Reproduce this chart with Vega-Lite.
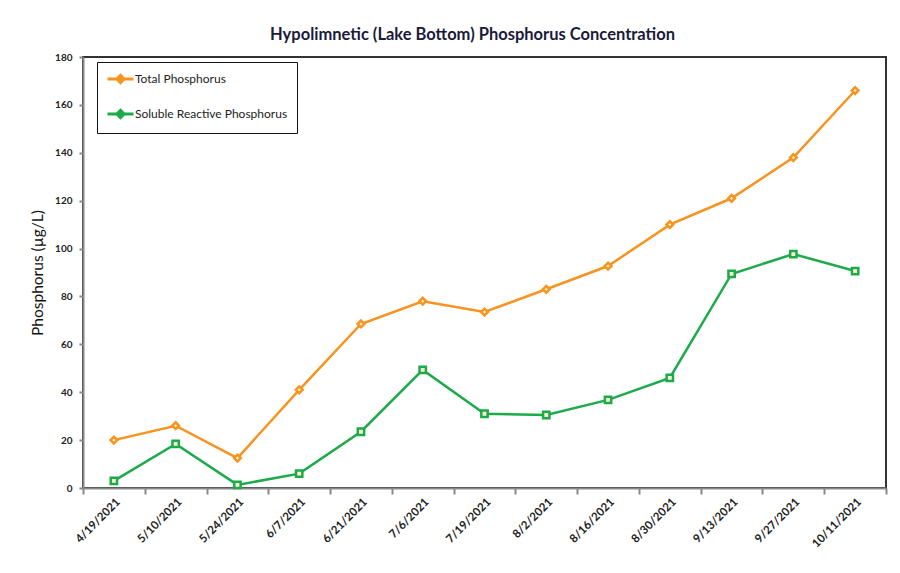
{
  "$schema": "https://vega.github.io/schema/vega-lite/v6.json",
  "width": 803,
  "height": 431,
  "autosize": {"type": "none"},
  "padding": {"left": 83, "top": 57, "right": 14, "bottom": 85},
  "background": "white",
  "title": {
    "text": "Hypolimnetic (Lake Bottom) Phosphorus Concentration",
    "font": "Lato",
    "fontSize": 16.5,
    "fontWeight": "bold",
    "color": "#1a1a3a",
    "anchor": "middle",
    "dx": -12,
    "offset": 9
  },
  "config": {
    "view": {"stroke": "#333333", "strokeWidth": 2},
    "font": "Lato"
  },
  "data": {
    "values": [
      {"date": "4/19/2021", "series": "Total Phosphorus", "value": 20},
      {"date": "5/10/2021", "series": "Total Phosphorus", "value": 26},
      {"date": "5/24/2021", "series": "Total Phosphorus", "value": 12.5},
      {"date": "6/7/2021", "series": "Total Phosphorus", "value": 41},
      {"date": "6/21/2021", "series": "Total Phosphorus", "value": 68.5},
      {"date": "7/6/2021", "series": "Total Phosphorus", "value": 78},
      {"date": "7/19/2021", "series": "Total Phosphorus", "value": 73.5},
      {"date": "8/2/2021", "series": "Total Phosphorus", "value": 83},
      {"date": "8/16/2021", "series": "Total Phosphorus", "value": 92.7},
      {"date": "8/30/2021", "series": "Total Phosphorus", "value": 110},
      {"date": "9/13/2021", "series": "Total Phosphorus", "value": 121},
      {"date": "9/27/2021", "series": "Total Phosphorus", "value": 138},
      {"date": "10/11/2021", "series": "Total Phosphorus", "value": 166},
      {"date": "4/19/2021", "series": "Soluble Reactive Phosphorus", "value": 3},
      {"date": "5/10/2021", "series": "Soluble Reactive Phosphorus", "value": 18.4},
      {"date": "5/24/2021", "series": "Soluble Reactive Phosphorus", "value": 1.3},
      {"date": "6/7/2021", "series": "Soluble Reactive Phosphorus", "value": 6},
      {"date": "6/21/2021", "series": "Soluble Reactive Phosphorus", "value": 23.5},
      {"date": "7/6/2021", "series": "Soluble Reactive Phosphorus", "value": 49.3},
      {"date": "7/19/2021", "series": "Soluble Reactive Phosphorus", "value": 31},
      {"date": "8/2/2021", "series": "Soluble Reactive Phosphorus", "value": 30.5},
      {"date": "8/16/2021", "series": "Soluble Reactive Phosphorus", "value": 36.8},
      {"date": "8/30/2021", "series": "Soluble Reactive Phosphorus", "value": 46},
      {"date": "9/13/2021", "series": "Soluble Reactive Phosphorus", "value": 89.4},
      {"date": "9/27/2021", "series": "Soluble Reactive Phosphorus", "value": 97.7},
      {"date": "10/11/2021", "series": "Soluble Reactive Phosphorus", "value": 90.6}
    ]
  },
  "encoding": {
    "x": {
      "field": "date",
      "type": "ordinal",
      "sort": null,
      "scale": {"type": "band", "paddingInner": 0, "paddingOuter": 0},
      "axis": {
        "title": null,
        "labelAngle": -45,
        "labelAlign": "right",
        "labelBaseline": "top",
        "labelFont": "Lato",
        "labelFontSize": 11.5,
        "labelFontWeight": "bold",
        "labelColor": "#222222",
        "tickBand": "extent",
        "domainColor": "#888888",
        "domainWidth": 2,
        "tickColor": "#888888",
        "tickWidth": 2,
        "tickSize": 6,
        "labelPadding": 2
      }
    },
    "y": {
      "field": "value",
      "type": "quantitative",
      "scale": {"domain": [0, 180], "nice": false},
      "axis": {
        "title": "Phosphorus (µg/L)",
        "titleFont": "Lato",
        "titleFontSize": 15.5,
        "titleFontWeight": "normal",
        "titleColor": "#111111",
        "titlePadding": 9,
        "values": [0, 20, 40, 60, 80, 100, 120, 140, 160, 180],
        "grid": false,
        "labelFont": "Lato",
        "labelFontSize": 10,
        "labelFontWeight": "bold",
        "labelColor": "#222222",
        "labelPadding": 7,
        "domainColor": "#888888",
        "domainWidth": 2,
        "tickColor": "#888888",
        "tickWidth": 2,
        "tickSize": 4
      }
    },
    "color": {
      "field": "series",
      "type": "nominal",
      "scale": {
        "domain": ["Total Phosphorus", "Soluble Reactive Phosphorus"],
        "range": ["#F7931E", "#1DAA4A"]
      },
      "legend": {
        "title": null,
        "orient": "none",
        "legendX": 14,
        "legendY": 5,
        "strokeColor": "#111111",
        "padding": 9,
        "rowPadding": 15,
        "labelFont": "Lato",
        "labelFontSize": 12,
        "labelColor": "#222222",
        "symbolType": "M-1,0L0.45,0M1.55,0L3,0M1,-0.55L1.55,0L1,0.55L0.45,0Z",
        "symbolStrokeWidth": 3,
        "symbolSize": 169,
        "labelOffset": 13,
        "labelLimit": 300
      }
    }
  },
  "layer": [
    {
      "mark": {"type": "line", "strokeWidth": 2.5}
    },
    {
      "transform": [{"filter": "datum.series === 'Total Phosphorus'"}],
      "mark": {"type": "point", "shape": "diamond", "filled": true, "fill": "#fff7d0", "strokeWidth": 2.5, "size": 45, "opacity": 1},
      "encoding": {
        "stroke": {"field": "series", "type": "nominal", "scale": {"domain": ["Total Phosphorus", "Soluble Reactive Phosphorus"], "range": ["#F7931E", "#1DAA4A"]}, "legend": null}
      }
    },
    {
      "transform": [{"filter": "datum.series === 'Soluble Reactive Phosphorus'"}],
      "mark": {"type": "point", "shape": "square", "filled": true, "fill": "#fff7d0", "strokeWidth": 2.5, "size": 40, "opacity": 1},
      "encoding": {
        "stroke": {"field": "series", "type": "nominal", "scale": {"domain": ["Total Phosphorus", "Soluble Reactive Phosphorus"], "range": ["#F7931E", "#1DAA4A"]}, "legend": null}
      }
    }
  ]
}
